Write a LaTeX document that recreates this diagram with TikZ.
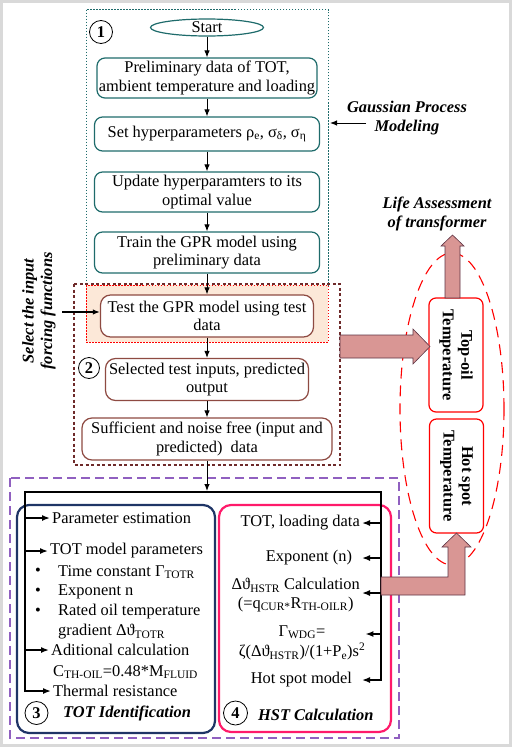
\documentclass[tikz,border=0pt]{standalone}
\usepackage{fontspec}
\setmainfont{Liberation Serif}
\usetikzlibrary{arrows.meta,shapes.geometric}
\definecolor{gprline}{HTML}{1E6B6B}
\definecolor{testline}{HTML}{8E4A42}
\definecolor{peach}{HTML}{FCE8D8}
\definecolor{maroonline}{HTML}{6E2A2A}
\definecolor{purpleline}{HTML}{9060C0}
\definecolor{navyline}{HTML}{1F3566}
\definecolor{pinkline}{HTML}{FF1A6A}
\definecolor{fatfill}{HTML}{D99694}
\definecolor{fatedge}{HTML}{5E3444}
\tikzset{
  gpr/.style={draw=gprline, line width=1.2pt, rounded corners=8pt, align=center, inner sep=0pt, minimum width=225pt},
  tst/.style={draw=testline, fill=white, line width=1.2pt, rounded corners=10pt, align=center, inner sep=0pt, minimum height=42pt},
  tmp/.style={draw=red, line width=1.2pt, rounded corners=7pt, align=center, rotate=-90, font=\bfseries, minimum width=114pt, minimum height=54pt},
  num/.style={draw, circle, line width=0.8pt, minimum size=22pt, inner sep=0pt, font=\bfseries},
  lbl/.style={font=\bfseries\itshape, align=center},
  item/.style={inner sep=2pt},
  flow/.style={-{Latex[length=7pt,width=5.5pt]}, line width=1pt},
  tap/.style={-{Latex[length=8pt,width=6pt]}, line width=1.5pt},
  fat/.style={fill=fatfill, draw=fatedge, line width=0.6pt}
}
\begin{document}
\fontsize{16.4}{18.5}\selectfont
\begin{tikzpicture}[x=1pt, y=-1pt]
            \useasboundingbox (0,0) rectangle (512,747);
            \draw[gray!30, line width=3pt] (1.5,1.5) rectangle (510.5,745.5);
            \draw[gprline, line width=0.9pt, dash pattern=on 1.5pt off 1.5pt] (86,9.5) rectangle (328,285);
            \draw[red, fill=peach, line width=1pt, dash pattern=on 1.5pt off 1.5pt] (86,285) rectangle (328,342);
            \draw[maroonline, line width=2.2pt, dash pattern=on 3pt off 2.5pt] (74,284) rectangle (340,465);
            \draw[purpleline, line width=1.2pt, dash pattern=on 9pt off 5pt] (10,478) rectangle (399,738);
            \draw[navyline, line width=2.2pt, rounded corners=12pt] (17,505) rectangle (215,733);
            \draw[pinkline, line width=2.2pt, rounded corners=12pt] (219,505) rectangle (391,732);

            \node[num, minimum size=23pt] (n1) at (101,32) {1};
            \node[draw=gprline, line width=1.2pt, ellipse, inner sep=0pt, minimum width=113pt, minimum height=17pt] (start) at (207,27.5) {Start};
            \node[gpr, minimum width=220pt, minimum height=40pt] (prelim) at (207,78) {Preliminary data of TOT,\\ambient temperature and loading};
            \node[gpr, minimum height=34pt] (hyper) at (207,134) {Set hyperparameters ρ\textsubscript{e}, σ\textsubscript{δ}, σ\textsubscript{η}};
            \node[gpr, minimum height=40pt] (update) at (207,192) {Update hyperparamters to its\\optimal value};
            \node[gpr, minimum height=41pt] (train) at (207,252.5) {Train the GPR model using\\preliminary data};
            \draw[flow] (start) -- (prelim);
            \draw[flow] (prelim) -- (hyper);
            \draw[flow] (hyper) -- (update);
            \draw[flow] (update) -- (train);

            \node[lbl] (gpm) at (407,118) {Gaussian Process\\Modeling};
            \coordinate (gp) at (366,123);
            \draw[flow] (gp) -- (330,123);

            \node[tst, minimum width=213pt] (test) at (207,316) {Test the GPR model using test\\data};
            \node[tst, minimum width=203pt] (select) at (207,379.5) {Selected test inputs, predicted\\output};
            \node[tst, minimum width=250pt] (suff) at (207,439) {Sufficient and noise free (input and\\predicted)\ \ data};
            \node[num, minimum size=21pt] (n2) at (89,368) {2};
            \coordinate (busM) at (207,491);
            \draw[flow] (train) -- (test);
            \draw[flow] (test) -- (select);
            \draw[flow] (select) -- (suff);
            \draw[flow] (suff) -- (busM);

            \node[lbl, rotate=90] (forcing) at (39,311) {Select the input\\forcing functions};
            \coordinate (sf) at (62,312);
            \draw[flow, line width=1.6pt] (sf) -- (sf -| test.west);

            \draw[red, line width=1.1pt, dash pattern=on 11pt off 7pt] (452,409) ellipse (52 and 156);
            \node[tmp] (topoil) at (456,355) {Top-oil\\Temperature};
            \node[tmp] (hotspot) at (456.5,476) {Hot spot\\Temperature};
            \node[lbl] (life) at (437,214) {Life Assessment\\of transformer};
            \draw[fat] (340,335) -- (413,335) -- (413,329) -- (430,346.5) -- (413,364) -- (413,358) -- (340,358) -- cycle;
            \draw[fat] (445,298) -- (445,246) -- (441,246) -- (452.5,235) -- (464,246) -- (460,246) -- (460,298) -- cycle;

            \draw[line width=2.5pt] (25,692) -- (25,492) -- (381,492) -- (381,681);
            \draw[fat] (381,577) -- (448,577) -- (448,547) -- (442,547) -- (456.5,533) -- (471,547) -- (465,547) -- (465,595) -- (381,595) -- cycle;

            \node[item, anchor=west] (pest) at (50,518) {Parameter estimation};
            \node[item, anchor=west] (totp) at (48,551) {TOT model parameters};
            \node (b1) at (38,572) {\textbullet};
            \node (b2) at (38,592) {\textbullet};
            \node (b3) at (38,612) {\textbullet};
            \node[item, anchor=west] (tconst) at (56,572) {Time constant Γ\textsubscript{TOTR}};
            \node[item, anchor=west] (expo) at (56,592) {Exponent n};
            \node[item, anchor=west] (rated) at (56,612) {Rated oil temperature};
            \node[item, anchor=west] (grad) at (56,632) {gradient Δϑ\textsubscript{TOTR}};
            \node[item, anchor=west] (addc) at (49,650) {Aditional calculation};
            \node[item, anchor=west] (cth) at (51,672) {C\textsubscript{TH-OIL}=0.48*M\textsubscript{FLUID}};
            \node[item, anchor=west] (thres) at (51,691) {Thermal resistance};
            \node[num, minimum size=23pt] (n3) at (36.5,713) {3};
            \node[lbl, item, anchor=west] (totid) at (61,713) {TOT Identification};
            \draw[tap] (25,518) -- (pest.west);
            \draw[tap] (25,551) -- (totp.west);
            \draw[tap] (25,650) -- (addc.west);
            \draw[tap] (25,691) -- (thres.west);

            \node[item, anchor=east] (tld) at (362,523) {TOT, loading data};
            \node[item, anchor=east, outer xsep=8pt] (expn) at (362,558) {Exponent (n)};
            \node[item, anchor=east, align=center] (hcalc) at (362,595) {Δϑ\textsubscript{HSTR} Calculation\\(=q\textsubscript{CUR*}R\textsubscript{TH-OILR})};
            \node[inner sep=0pt, align=center] (gw) at (302,643) {Γ\textsubscript{WDG}=\\[2pt]ζ(Δϑ\textsubscript{HSTR})/(1+P\textsubscript{e})s\textsuperscript{2}};
            \node[item, anchor=east, outer xsep=8pt] (hsm) at (362,680) {Hot spot model};
            \node[num, minimum size=24pt] (n4) at (235.5,713) {4};
            \node[lbl, item, anchor=west] (hstc) at (256,715) {HST Calculation};
            \coordinate (r1) at (381,523);
            \coordinate (r2) at (381,558);
            \coordinate (r3) at (381,593);
            \coordinate (r4) at (381,634);
            \coordinate (r5) at (381,680);
            \draw[tap] (r1) -- (r1 -| tld.east);
            \draw[tap] (r2) -- (r2 -| expn.east);
            \draw[tap] (r3) -- (r3 -| hcalc.east);
            \draw[tap] (r4) -- (r4 -| gw.east);
            \draw[tap] (r5) -- (r5 -| hsm.east);
\end{tikzpicture}
\end{document}
